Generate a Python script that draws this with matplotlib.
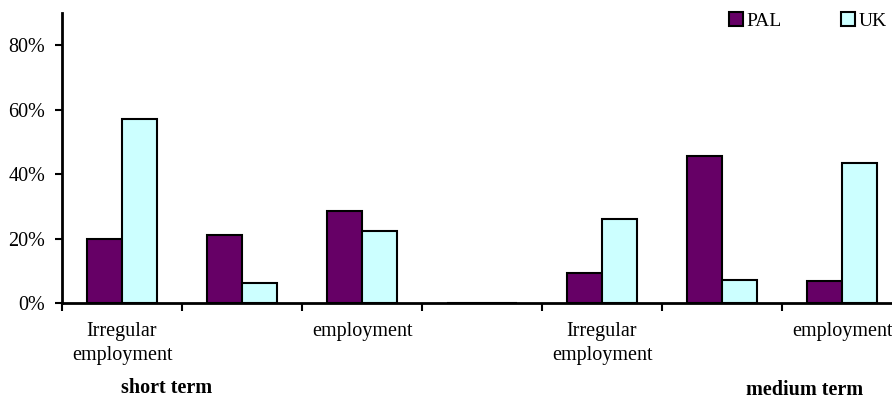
import matplotlib.pyplot as plt
import numpy as np

plt.rcParams['font.family'] = ['Liberation Serif', 'DejaVu Serif']

# Data (percent)
categories = ['Irregular\nemployment', '', 'employment', '', 'Irregular\nemployment', '', 'employment']
pal = [19.8, 21.1, 28.6, 0, 9.4, 45.6, 6.8]
uk = [57.1, 6.3, 22.4, 0, 26.0, 7.1, 43.5]
groups = ['short term', 'medium term']


def main():
    fig = plt.figure(figsize=(8.92, 4.01), dpi=100)
    ax = fig.add_axes([62 / 892, 98 / 401, 840 / 892, 290 / 401])

    x = np.arange(len(categories))
    w = 0.29
    ax.bar(x - w / 2, pal, w, color='#660066', edgecolor='black', linewidth=1.5, label='PAL')
    ax.bar(x + w / 2, uk, w, color='#CCFFFF', edgecolor='black', linewidth=1.5, label='UK')

    ax.set_xlim(-0.5, len(categories) - 0.5)
    ax.set_ylim(0, 90)

    # y axis
    ax.set_yticks([0, 20, 40, 60, 80])
    ax.set_yticklabels(['0%', '20%', '40%', '60%', '80%'])
    ax.tick_params(axis='y', length=5, width=1.5, pad=7, labelsize=14.5)

    # x axis: labels at centres, tick marks between categories
    ax.set_xticks(x)
    ax.set_xticklabels(categories, linespacing=1.35)
    ax.set_xticks(np.arange(-0.5, len(categories)), minor=True)
    ax.tick_params(axis='x', which='major', length=0, pad=14, labelsize=14.5)
    ax.tick_params(axis='x', which='minor', length=6, width=1.5)

    for s in ['top', 'right']:
        ax.spines[s].set_visible(False)
    for s in ['left', 'bottom']:
        ax.spines[s].set_linewidth(2)

    fig.text(167 / 892, 1 - 388 / 401, groups[0], ha='center', va='center',
             fontsize=14.5, fontweight='bold')
    fig.text(805 / 892, 1 - 390 / 401, groups[1], ha='center', va='center',
             fontsize=14.5, fontweight='bold')

    ax.legend(loc='upper left', bbox_to_anchor=(729 / 892, 1 - 12 / 401),
              bbox_transform=fig.transFigure, frameon=False, ncol=2,
              fontsize=14, handlelength=0.7, handleheight=0.7,
              handletextpad=0.2, columnspacing=3.05, borderpad=0, borderaxespad=0)

    fig.savefig('out.png', dpi=100)


if __name__ == '__main__':
    main()
